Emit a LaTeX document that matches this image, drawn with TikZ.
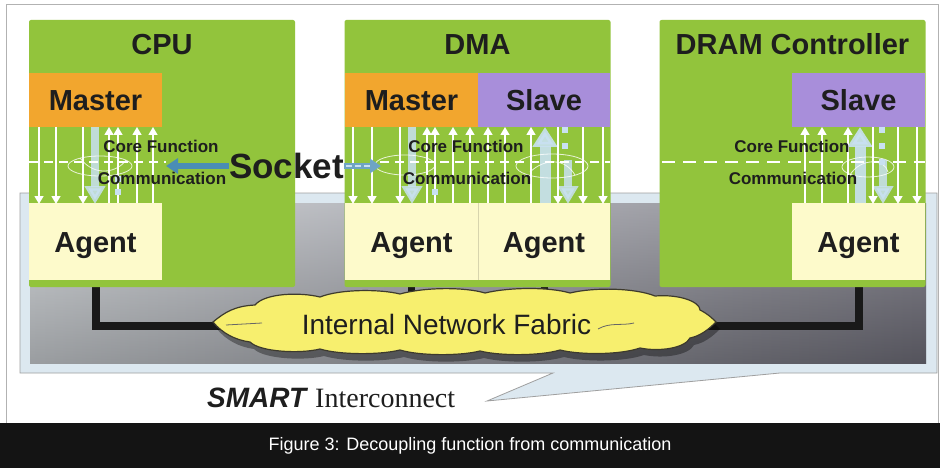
\documentclass[tikz,border=0pt]{standalone}
\usepackage{fontspec}
\setmainfont{Liberation Sans}
\newfontfamily\serifont{Liberation Serif}
\usetikzlibrary{arrows.meta,calc}
\definecolor{boxgreen}{HTML}{92C43C}
\definecolor{masterc}{HTML}{F2A62E}
\definecolor{slavec}{HTML}{A88EDA}
\definecolor{agentc}{HTML}{FDFACB}
\definecolor{cloudc}{HTML}{F7EF6E}
\definecolor{callc}{HTML}{DCE8F0}
\definecolor{sockc}{HTML}{4A8DB5}
\definecolor{lblue}{HTML}{C9E1F2}
\definecolor{txt}{HTML}{1E1E1E}
\definecolor{grayL}{HTML}{C6CACE}
\definecolor{grayR}{HTML}{6C6B76}
\pgfdeclarelayer{back}
\pgfdeclarelayer{wires}
\pgfsetlayers{back,wires,main}
\newcommand\fabricpath{(213,322)
 .. controls (225,312) and (235,306) .. (255,305)
 .. controls (265,293) and (300,292) .. (320,297)
 .. controls (340,289) and (380,289) .. (400,294)
 .. controls (425,287) and (465,287) .. (485,293)
 .. controls (510,287) and (550,287) .. (570,293)
 .. controls (595,287) and (635,288) .. (655,296)
 .. controls (680,294) and (700,302) .. (700,310)
 .. controls (708,314) and (712,318) .. (716,322)
 .. controls (708,330) and (700,336) .. (690,338)
 .. controls (685,348) and (660,352) .. (640,348)
 .. controls (620,355) and (580,355) .. (560,350)
 .. controls (540,356) and (500,356) .. (480,351)
 .. controls (460,356) and (420,356) .. (400,350)
 .. controls (380,355) and (340,355) .. (320,349)
 .. controls (300,354) and (260,352) .. (250,342)
 .. controls (235,340) and (222,333) .. (213,322) -- cycle}
\tikzset{
 greenbox/.style={fill=boxgreen, draw=none, rounded corners=2pt, minimum width=266pt, minimum height=267pt, inner sep=0pt, outer sep=0pt},
 lblbox/.style={inner sep=0pt, outer sep=0pt, minimum width=133pt, text height=21pt, text depth=0pt, font=\fontsize{29}{30}\selectfont\bfseries, text=txt},
 masterbox/.style={lblbox, fill=masterc, minimum height=54pt},
 slavebox/.style={lblbox, fill=slavec, minimum height=54pt},
 agentbox/.style={lblbox, fill=agentc, minimum height=77pt},
 titletext/.style={font=\fontsize{29}{30}\selectfont\bfseries, text=txt, inner sep=0pt, text height=21pt, text depth=0pt},
 layertext/.style={font=\fontsize{17}{18}\selectfont\bfseries, text=txt, inner sep=0pt, anchor=base},
 warrow/.style={white, line width=1.4pt, -{Triangle[width=9pt,length=8pt]}},
 barrow/.style={lblue, opacity=0.85, line width=8pt, -{Triangle[width=20pt,length=18pt]}},
 bigbarrow/.style={lblue, opacity=0.9, line width=11pt, -{Triangle[width=24pt,length=20pt]}},
 wdash/.style={white, line width=1.6pt, dash pattern=on 9pt off 6pt},
 swirl/.style={white, line width=0.8pt, opacity=0.8},
 wire/.style={black!90, line width=8pt},
 sq/.style={lblue},
}
\begin{document}
\begin{tikzpicture}[x=1pt,y=-1pt]
\useasboundingbox (0,0) rectangle (940,468);
\begin{pgfonlayer}{back}
 \fill[white] (0,0) rectangle (940,468);
 \draw[gray!60, line width=1pt] (6,5) rectangle (938,423);
 \draw[gray!75, line width=0.8pt, fill=callc] (20,193) -- (937,193) -- (937,373) -- (780,373) -- (487,401) -- (553,373) -- (20,373) -- cycle;
 \shade[left color=grayL, right color=grayR] (30,203) rectangle (926,363);
 \shade[top color=white, bottom color=black, opacity=0.22] (30,203) rectangle (926,363);
\end{pgfonlayer}

% caption bar
\fill[black!92] (0,423) rectangle (940,468);
\node[text=white, font=\fontsize{18}{20}\selectfont, inner sep=0pt] (cap) at (470,446) {Figure 3: Decoupling function from communication};

% green boxes
\node[greenbox] (cpu) at (162,153.5) {};
\node[greenbox] (dma) at (477.5,153.5) {};
\node[greenbox] (dram) at (792.5,153.5) {};
\node[titletext] (cputitle) at (162,44.5) {CPU};
\node[titletext] (dmatitle) at (477.5,44.5) {DMA};
\node[titletext] (dramtitle) at (792.5,44.5) {DRAM Controller};

\node[masterbox] (cpumaster) at (95.5,100) {Master};
\node[agentbox] (cpuagent) at (95.5,241.5) {Agent};
\node[masterbox] (dmamaster) at (411.5,100) {Master};
\node[slavebox, minimum width=132pt] (dmaslave) at (544,100) {Slave};
\node[agentbox] (dmaagentA) at (411.5,241.5) {Agent};
\node[agentbox, minimum width=132pt] (dmaagentB) at (544,241.5) {Agent};
\draw[agentc!85!black, line width=0.4pt] (dmaagentA.north east) -- (dmaagentA.south east);
\node[slavebox] (dramslave) at (858.5,100) {Slave};
\node[agentbox] (dramagent) at (858.5,241.5) {Agent};

% CPU interface detail
\draw[barrow] (95,127) -- (95,204);
\foreach \x in {39,56,83} \draw[warrow] (\x,127) -- (\x,204);
\foreach \x in {109,118,137,153} \draw[warrow] (\x,203) -- (\x,127);
\draw[wdash] (29,162) -- (166,162);
\draw[swirl] (100,166) ellipse [x radius=32, y radius=10];
\draw[swirl] (80,158) .. controls (95,178) and (118,172) .. (126,160);
\fill[sq] (115,189) rectangle ++(6,6);
\fill[sq] (115,176) rectangle ++(6,6);

% DMA interface detail
\draw[barrow] (412,127) -- (412,204);
\draw[barrow] (568,160) -- (568,204);
\draw[bigbarrow] (545,203) -- (545,127);
\foreach \x in {353,372,400,558,583,603} \draw[warrow] (\x,127) -- (\x,204);
\foreach \x in {427,435,453,470,488,505,531} \draw[warrow] (\x,203) -- (\x,127);
\draw[wdash] (380,162) -- (610,162);
\draw[swirl] (405,165) ellipse [x radius=30, y radius=10];
\draw[swirl] (552,166) ellipse [x radius=36, y radius=12];
\draw[swirl] (530,172) .. controls (545,158) and (565,158) .. (575,175);
\fill[sq] (432,189) rectangle ++(6,6);
\fill[sq] (562,127) rectangle ++(6,6);
\fill[sq] (562,143) rectangle ++(6,6);

% DRAM interface detail
\draw[barrow] (883,160) -- (883,204);
\draw[bigbarrow] (860,203) -- (860,127);
\foreach \x in {873,898,917} \draw[warrow] (\x,127) -- (\x,204);
\foreach \x in {805,822,848} \draw[warrow] (\x,203) -- (\x,127);
\draw[white, line width=1.6pt, dash pattern=on 13pt off 8pt] (662,162) -- (925,162);
\draw[swirl] (868,167) ellipse [x radius=26, y radius=10];
\draw[swirl] (850,175) .. controls (860,158) and (885,158) .. (888,172);
\fill[sq] (879,127) rectangle ++(6,6);
\fill[sq] (879,143) rectangle ++(6,6);
\fill[sq] (879,159) rectangle ++(6,6);

% layer labels
\node[layertext] (cpucore) at (161,153) {Core Function};
\node[layertext] (cpucomm) at (162,184) {Communication};
\node[layertext] (dmacore) at (466,153) {Core Function};
\node[layertext] (dmacomm) at (467,184) {Communication};
\node[layertext] (dramcore) at (792,153) {Core Function};
\node[layertext] (dramcomm) at (793,184) {Communication};

% socket
\node[font=\fontsize{35}{36}\selectfont\bfseries, inner sep=0pt, text height=25pt, text depth=0pt, text=txt] (sock) at (286.5,166) {Socket};
\coordinate (cpusockend) at (166,166);
\coordinate (dmasockend) at (381,166);
\draw[sockc, line width=6pt, -{Triangle[width=15pt,length=12pt]}] (sock.west) -- (cpusockend);
\draw[sockc!80, line width=6pt, -{Triangle[width=14pt,length=11pt]}] (sock.east) -- (dmasockend);
\draw[lblue, line width=2.2pt, dash pattern=on 6pt off 3pt] ([xshift=2pt]sock.east) -- ++(26,0);

% wires to the fabric
\coordinate (fabL) at (235,326);
\coordinate (fabR) at (705,326);
\coordinate (fabA) at (411.5,300);
\coordinate (fabB) at (544,300);
\begin{pgfonlayer}{wires}
 \draw[wire] (cpuagent.south) |- (fabL);
 \draw[wire] (dramagent.south) |- (fabR);
 \draw[wire, line width=7pt] (dmaagentA.south) -- (fabA);
 \draw[wire, line width=7pt] (dmaagentB.south) -- (fabB);
\end{pgfonlayer}

% cloud
\fill[black, opacity=0.35, shift={(4,7)}] \fabricpath;
\draw[fill=cloudc, draw=black!75!olive, line width=1.2pt] \fabricpath;
\draw[black!60, line width=0.8pt] (226,325) -- (262,323);
\draw[black!60, line width=0.8pt] (598,329) .. controls (610,322) and (622,326) .. (634,323);
\node[font=\fontsize{28}{30}\selectfont, inner sep=0pt, anchor=base, text=txt] (fabric) at (446.5,334) {Internal Network Fabric};

% SMART Interconnect label
\node[anchor=base west, inner sep=0pt, text=txt] (smart) at (207,407) {\fontsize{28}{30}\selectfont\bfseries\itshape SMART\hspace{9pt}\serifont\mdseries\upshape Interconnect};
\end{tikzpicture}
\end{document}
